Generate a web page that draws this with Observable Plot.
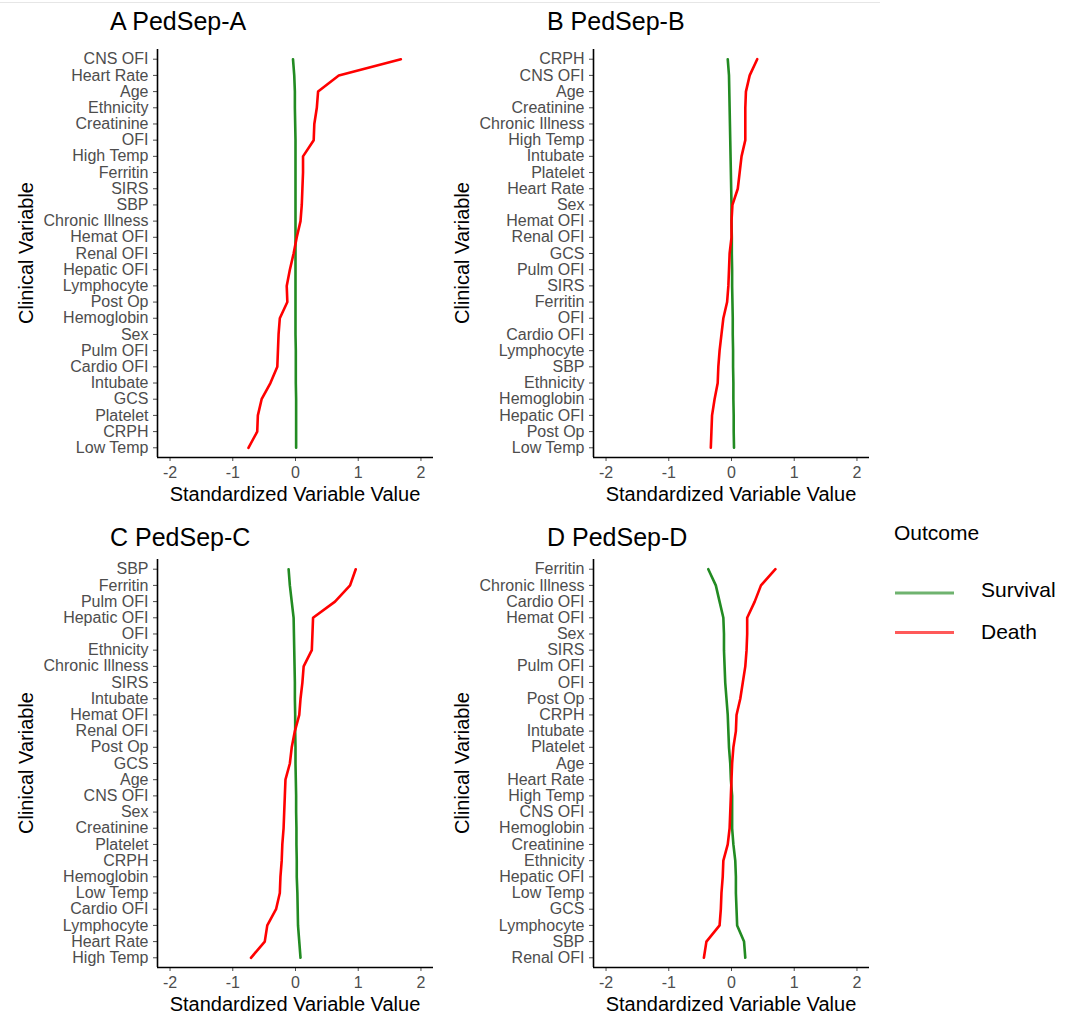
<!DOCTYPE html>
<html>
<head>
<meta charset="utf-8">
<script src="https://cdn.jsdelivr.net/npm/d3@7"></script>
<script src="https://cdn.jsdelivr.net/npm/@observablehq/plot@0.6"></script>
<style>
  body { margin: 0; background: #fff; font-family: "Liberation Sans", Arial, sans-serif; }
  #wrap { position: relative; width: 1065px; height: 1021px; overflow: hidden; }
  .abs { position: absolute; white-space: nowrap; line-height: 1; }
  .panel { position: absolute; }
  .ptitle { font-size: 25px; color: #000; }
  .xtitle { font-size: 20px; color: #000; transform: translateX(-50%); }
  .ytitle { font-size: 20px; color: #000; transform: translate(-50%, -50%) rotate(-90deg); }
  .leg { font-size: 21px; color: #000; }
</style>
</head>
<body>
<div id="wrap"></div>
<script>
// ---- data ----
const outcomes = ["Survival", "Death"];
const outcomeColors = ["#228B22", "#FF0000"];
const xTicks = [-2, -1, 0, 1, 2];
const panelTitles = ["A PedSep-A", "B PedSep-B", "C PedSep-C", "D PedSep-D"];

const catsA = ["CNS OFI","Heart Rate","Age","Ethnicity","Creatinine","OFI","High Temp","Ferritin","SIRS","SBP","Chronic Illness","Hemat OFI","Renal OFI","Hepatic OFI","Lymphocyte","Post Op","Hemoglobin","Sex","Pulm OFI","Cardio OFI","Intubate","GCS","Platelet","CRPH","Low Temp"];
const survivalA = [-0.04,-0.02,-0.01,-0.01,-0.005,0,0,0,0,0,0,0,0,0,0,0,0,0,0.005,0.005,0.005,0.01,0.01,0.01,0.01];
const deathA = [1.68,0.69,0.36,0.34,0.30,0.29,0.12,0.12,0.11,0.10,0.08,0.02,-0.03,-0.09,-0.14,-0.13,-0.25,-0.27,-0.28,-0.29,-0.40,-0.54,-0.60,-0.61,-0.75];

const catsB = ["CRPH","CNS OFI","Age","Creatinine","Chronic Illness","High Temp","Intubate","Platelet","Heart Rate","Sex","Hemat OFI","Renal OFI","GCS","Pulm OFI","SIRS","Ferritin","OFI","Cardio OFI","Lymphocyte","SBP","Ethnicity","Hemoglobin","Hepatic OFI","Post Op","Low Temp"];
const survivalB = [-0.06,-0.04,-0.035,-0.03,-0.025,-0.02,-0.015,-0.01,-0.005,0,0,0.005,0.005,0.01,0.01,0.015,0.02,0.02,0.025,0.025,0.03,0.03,0.035,0.035,0.04];
const deathB = [0.41,0.29,0.23,0.22,0.22,0.22,0.16,0.13,0.10,0.015,0.0,0.0,-0.03,-0.04,-0.05,-0.07,-0.13,-0.16,-0.19,-0.21,-0.22,-0.27,-0.31,-0.32,-0.33];

const catsC = ["SBP","Ferritin","Pulm OFI","Hepatic OFI","OFI","Ethnicity","Chronic Illness","SIRS","Intubate","Hemat OFI","Renal OFI","Post Op","GCS","Age","CNS OFI","Sex","Creatinine","Platelet","CRPH","Hemoglobin","Low Temp","Cardio OFI","Lymphocyte","Heart Rate","High Temp"];
const survivalC = [-0.11,-0.09,-0.06,-0.03,-0.025,-0.02,-0.015,-0.01,-0.01,-0.005,-0.005,0,0,0.005,0.01,0.01,0.015,0.015,0.02,0.02,0.03,0.035,0.04,0.06,0.08];
const deathC = [0.96,0.87,0.63,0.28,0.27,0.26,0.13,0.11,0.08,0.06,-0.01,-0.06,-0.09,-0.16,-0.17,-0.18,-0.19,-0.21,-0.22,-0.24,-0.25,-0.31,-0.45,-0.49,-0.71];

const catsD = ["Ferritin","Chronic Illness","Cardio OFI","Hemat OFI","Sex","SIRS","Pulm OFI","OFI","Post Op","CRPH","Intubate","Platelet","Age","Heart Rate","High Temp","CNS OFI","Hemoglobin","Creatinine","Ethnicity","Hepatic OFI","Low Temp","GCS","Lymphocyte","SBP","Renal OFI"];
const survivalD = [-0.37,-0.25,-0.19,-0.13,-0.12,-0.12,-0.11,-0.10,-0.08,-0.06,-0.05,-0.04,-0.02,-0.01,0.01,0.01,0.01,0.03,0.06,0.07,0.07,0.08,0.09,0.20,0.22];
const deathD = [0.70,0.47,0.37,0.25,0.25,0.24,0.22,0.18,0.14,0.08,0.07,0.03,0.01,0.0,-0.01,-0.02,-0.03,-0.06,-0.13,-0.14,-0.16,-0.17,-0.19,-0.40,-0.44];

// ---- drawing ----
function panel(cats, surv, death) {
  const rows = [];
  cats.forEach((c, i) => rows.push({variable: c, idx: i, outcome: "Survival", value: surv[i]}));
  cats.forEach((c, i) => rows.push({variable: c, idx: i, outcome: "Death", value: death[i]}));
  const n = cats.length;
  return Plot.plot({
    width: 442, height: 520,
    marginLeft: 157, marginRight: 9, marginTop: 49, marginBottom: 63,
    style: {fontFamily: "'Liberation Sans', Arial, sans-serif", fontSize: "16px", color: "#4d4d4d", background: "transparent", overflow: "visible"},
    x: {domain: [-2.2, 2.2]},
    y: {domain: [-0.6, n - 0.4], reverse: true},
    color: {domain: outcomes, range: outcomeColors},
    marks: [
      Plot.axisY(d3.range(n), {tickSize: 4, tickPadding: 5, tickFormat: i => cats[i], label: null}),
      Plot.axisX(xTicks, {tickSize: 4, tickPadding: 5, tickFormat: d => String(d), label: null}),
      Plot.ruleX([-2.2], {stroke: "#000", strokeWidth: 1.6}),
      Plot.ruleY([n - 0.4], {stroke: "#000", strokeWidth: 1.6}),
      Plot.line(rows, {x: "value", y: "idx", z: "outcome", stroke: "outcome", strokeWidth: 2.6})
    ]
  });
}

const wrap = document.getElementById("wrap");
function addText(cls, txt, left, top) {
  const d = document.createElement("div");
  d.className = "abs " + cls;
  d.textContent = txt;
  d.style.left = left + "px";
  d.style.top = top + "px";
  wrap.appendChild(d);
  return d;
}

// faint top border
const border = document.createElement("div");
border.style.cssText = "position:absolute;left:0;top:2px;width:880px;height:1px;background:#e6e6e6;";
wrap.appendChild(border);

const panels = [
  {cats: catsA, s: survivalA, d: deathA, left: 0, top: 0},
  {cats: catsB, s: survivalB, d: deathB, left: 436, top: 0},
  {cats: catsC, s: survivalC, d: deathC, left: 0, top: 510},
  {cats: catsD, s: survivalD, d: deathD, left: 436, top: 510}
];
panels.forEach((p, k) => {
  const div = document.createElement("div");
  div.className = "panel";
  div.style.left = p.left + "px";
  div.style.top = p.top + "px";
  div.appendChild(panel(p.cats, p.s, p.d));
  wrap.appendChild(div);
  const titleTop = (k < 2 ? 30 : 546.5) - 0.8465 * 25;
  addText("ptitle", panelTitles[k], p.left + 110 + (k % 2 ? 1 : 0), titleTop);
  addText("xtitle", "Standardized Variable Value", p.left + 295, p.top + 501 - 0.8465 * 20);
  addText("ytitle", "Clinical Variable", p.left + 26, p.top + 253);
});

// legend
addText("leg", "Outcome", 894, 540 - 0.8465 * 21);
const legSvg = d3.create("svg").attr("width", 70).attr("height", 90)
  .style("position", "absolute").style("left", "890px").style("top", "570px");
outcomes.forEach((o, i) => {
  legSvg.append("line").attr("x1", 5).attr("x2", 64)
    .attr("y1", 23 + i * 39.5).attr("y2", 23 + i * 39.5)
    .attr("stroke", outcomeColors[i]).attr("stroke-opacity", 0.65).attr("stroke-width", 2.8);
});
wrap.appendChild(legSvg.node());
addText("leg", "Survival", 981, 596.5 - 0.8465 * 21);
addText("leg", "Death", 981, 638.5 - 0.8465 * 21);
</script>
</body>
</html>
